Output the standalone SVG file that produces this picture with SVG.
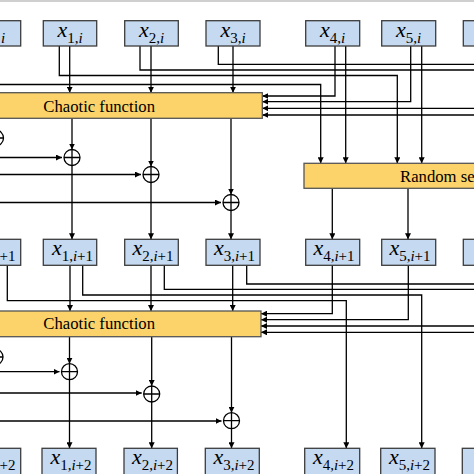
<svg xmlns="http://www.w3.org/2000/svg" width="474" height="474" viewBox="0 0 474 474">
<defs>
<marker id="ah" viewBox="0 0 10 10" refX="10" refY="5" markerWidth="6" markerHeight="6" markerUnits="userSpaceOnUse" orient="auto">
<path d="M0,0 L10,5 L0,10 z" fill="#000"/>
</marker>
<style>
.box{fill:#C5D9F1;stroke:#3c3c3c;stroke-width:1.3}
.bar{fill:#FCD36A;stroke:#555;stroke-width:1.3}
.ln{fill:none;stroke:#000;stroke-width:1.3}
.ar{fill:none;stroke:#000;stroke-width:1.3;marker-end:url(#ah)}
.xor{fill:#fff;stroke:#000;stroke-width:1.3}
.lbl{font-size:22px;fill:#000}
.sub{font-size:15px}
.it{font-style:italic}
.bt{font-size:16.7px;fill:#000}
</style>
</defs>
<rect x="0" y="0" width="474" height="2" fill="#cfcfcf"/>

<g id="connectors">
<path class="ar" d="M0 84.5 H320.7 V163.3"/>
<path class="ar" d="M59.3 46 V75.5 H397.3 V163.3"/>
<path class="ar" d="M69.7 46 V92.7"/>
<path class="ln" d="M140 46 V70 H474"/>
<path class="ar" d="M151 46 V92.7"/>
<path class="ln" d="M218.3 46 V64.3 H474"/>
<path class="ar" d="M233 46 V92.7"/>
<path class="ar" d="M335 46 V96 H262.3"/>
<path class="ar" d="M345.7 46 V163.3"/>
<path class="ar" d="M410.7 46 V101.7 H262.3"/>
<path class="ar" d="M421.7 46 V163.3"/>
<path class="ar" d="M474 108.3 H262.3"/>
<path class="ar" d="M474 115 H262.3"/>
<path class="ar" d="M72 118.3 V149.5"/>
<path class="ar" d="M72 165.5 V239.3"/>
<path class="ar" d="M151 118.3 V166.5"/>
<path class="ar" d="M151 182.5 V239.3"/>
<path class="ar" d="M231 118.3 V194.5"/>
<path class="ar" d="M231 210.5 V239.3"/>
<path class="ar" d="M0 157.5 H62"/>
<path class="ar" d="M0 174.5 H141"/>
<path class="ar" d="M0 202.5 H221"/>
<path class="ar" d="M332.3 188.3 V239.3"/>
<path class="ar" d="M408 188.3 V239.3"/>
<path class="ar" d="M7.3 265.3 V300.7 H346.3 V448.3"/>
<path class="ar" d="M70 265.3 V311"/>
<path class="ar" d="M82.7 265.3 V295 H421.7 V448.3"/>
<path class="ar" d="M151 265.3 V311"/>
<path class="ln" d="M164.3 265.3 V289.3 H474"/>
<path class="ar" d="M232.7 265.3 V311"/>
<path class="ln" d="M246.7 265.3 V284 H474"/>
<path class="ar" d="M332.3 265.3 V313.7 H261"/>
<path class="ar" d="M408.3 265.3 V319.7 H261"/>
<path class="ar" d="M474 326 H261"/>
<path class="ar" d="M474 332.3 H261"/>
<path class="ar" d="M69.5 336.7 V363.7"/>
<path class="ar" d="M69.5 379.7 V448.3"/>
<path class="ar" d="M151.7 336.7 V386"/>
<path class="ar" d="M151.7 402 V448.3"/>
<path class="ar" d="M231.5 336.7 V412.7"/>
<path class="ar" d="M231.5 428.7 V448.3"/>
<path class="ar" d="M0 371.7 H59.5"/>
<path class="ar" d="M0 393 H141.7"/>
<path class="ar" d="M0 421 H221.5"/>
</g>

<g id="xor-ops">
<g id="xor0a"><circle class="xor" cx="-4.5" cy="138" r="8"/><path class="ln" d="M-12.5 138 H3.5 M-4.5 130 V146"/></g>
<g id="xor1a"><circle class="xor" cx="72" cy="157.5" r="8"/><path class="ln" d="M64 157.5 H80 M72 149.5 V165.5"/></g>
<g id="xor2a"><circle class="xor" cx="151" cy="174.5" r="8"/><path class="ln" d="M143 174.5 H159 M151 166.5 V182.5"/></g>
<g id="xor3a"><circle class="xor" cx="231" cy="202.5" r="8"/><path class="ln" d="M223 202.5 H239 M231 194.5 V210.5"/></g>
<g id="xor0b"><circle class="xor" cx="-5" cy="357" r="8"/><path class="ln" d="M-13 357 H3 M-5 349 V365"/></g>
<g id="xor1b"><circle class="xor" cx="69.5" cy="371.7" r="8"/><path class="ln" d="M61.5 371.7 H77.5 M69.5 363.7 V379.7"/></g>
<g id="xor2b"><circle class="xor" cx="151.7" cy="394" r="8"/><path class="ln" d="M143.7 394 H159.7 M151.7 386 V402"/></g>
<g id="xor3b"><circle class="xor" cx="231.5" cy="420.7" r="8"/><path class="ln" d="M223.5 420.7 H239.5 M231.5 412.7 V428.7"/></g>
</g>

<g font-family="'Liberation Serif', 'DejaVu Serif', serif">
<g id="chaotic1"><rect class="bar" x="-10" y="92.7" width="272.3" height="25.6"/><text class="bt" x="43.3" y="111.6">Chaotic function</text></g>
<g id="chaotic2"><rect class="bar" x="-10" y="311" width="271" height="25.7"/><text class="bt" x="43.3" y="329">Chaotic function</text></g>
<g id="random"><rect class="bar" x="304" y="163.3" width="180" height="25"/><text class="bt" x="400" y="182.3">Random se</text></g>

<g id="x0i"><rect class="box" x="-33.3" y="20.7" width="54" height="25.3"/><text class="lbl" x="1" y="43"><tspan class="sub it">i</tspan></text></g>
<g id="x1i"><rect class="box" x="43.3" y="20.7" width="53.4" height="25.3"/><text class="lbl" x="70" y="37" text-anchor="middle"><tspan class="it">x</tspan><tspan class="sub" dy="6">1,<tspan class="it">i</tspan></tspan></text></g>
<g id="x2i"><rect class="box" x="124.7" y="20.7" width="53.6" height="25.3"/><text class="lbl" x="151.5" y="37" text-anchor="middle"><tspan class="it">x</tspan><tspan class="sub" dy="6">2,<tspan class="it">i</tspan></tspan></text></g>
<g id="x3i"><rect class="box" x="206" y="20.7" width="54" height="25.3"/><text class="lbl" x="233" y="37" text-anchor="middle"><tspan class="it">x</tspan><tspan class="sub" dy="6">3,<tspan class="it">i</tspan></tspan></text></g>
<g id="x4i"><rect class="box" x="305.7" y="20.7" width="54" height="25.3"/><text class="lbl" x="332.7" y="37" text-anchor="middle"><tspan class="it">x</tspan><tspan class="sub" dy="6">4,<tspan class="it">i</tspan></tspan></text></g>
<g id="x5i"><rect class="box" x="381.7" y="20.7" width="54" height="25.3"/><text class="lbl" x="408.7" y="37" text-anchor="middle"><tspan class="it">x</tspan><tspan class="sub" dy="6">5,<tspan class="it">i</tspan></tspan></text></g>
<g id="x6i"><rect class="box" x="463.3" y="20.7" width="54" height="25.3"/></g>

<g id="x0i1"><rect class="box" x="-33.3" y="239.3" width="54" height="26"/><text class="lbl" x="-0.5" y="261"><tspan class="sub">+1</tspan></text></g>
<g id="x1i1"><rect class="box" x="43.3" y="239.3" width="53.4" height="26"/><text class="lbl" x="72.5" y="255" text-anchor="middle"><tspan class="it">x</tspan><tspan class="sub" dy="6">1,<tspan class="it">i</tspan>+1</tspan></text></g>
<g id="x2i1"><rect class="box" x="124.7" y="239.3" width="53.6" height="26"/><text class="lbl" x="153" y="255" text-anchor="middle"><tspan class="it">x</tspan><tspan class="sub" dy="6">2,<tspan class="it">i</tspan>+1</tspan></text></g>
<g id="x3i1"><rect class="box" x="206" y="239.3" width="54" height="26"/><text class="lbl" x="234.5" y="255" text-anchor="middle"><tspan class="it">x</tspan><tspan class="sub" dy="6">3,<tspan class="it">i</tspan>+1</tspan></text></g>
<g id="x4i1"><rect class="box" x="305.7" y="239.3" width="54" height="26"/><text class="lbl" x="334" y="255" text-anchor="middle"><tspan class="it">x</tspan><tspan class="sub" dy="6">4,<tspan class="it">i</tspan>+1</tspan></text></g>
<g id="x5i1"><rect class="box" x="381.7" y="239.3" width="54" height="26"/><text class="lbl" x="410" y="255" text-anchor="middle"><tspan class="it">x</tspan><tspan class="sub" dy="6">5,<tspan class="it">i</tspan>+1</tspan></text></g>
<g id="x6i1"><rect class="box" x="463.3" y="239.3" width="54" height="26"/></g>

<g id="x0i2"><rect class="box" x="-33.3" y="448.3" width="54" height="40"/><text class="lbl" x="-0.5" y="470"><tspan class="sub">+2</tspan></text></g>
<g id="x1i2"><rect class="box" x="42" y="448.3" width="54" height="40"/><text class="lbl" x="71" y="464" text-anchor="middle"><tspan class="it">x</tspan><tspan class="sub" dy="6">1,<tspan class="it">i</tspan>+2</tspan></text></g>
<g id="x2i2"><rect class="box" x="124" y="448.3" width="53.4" height="40"/><text class="lbl" x="152.5" y="464" text-anchor="middle"><tspan class="it">x</tspan><tspan class="sub" dy="6">2,<tspan class="it">i</tspan>+2</tspan></text></g>
<g id="x3i2"><rect class="box" x="205.3" y="448.3" width="54" height="40"/><text class="lbl" x="234" y="464" text-anchor="middle"><tspan class="it">x</tspan><tspan class="sub" dy="6">3,<tspan class="it">i</tspan>+2</tspan></text></g>
<g id="x4i2"><rect class="box" x="304.7" y="448.3" width="55" height="40"/><text class="lbl" x="333.5" y="464" text-anchor="middle"><tspan class="it">x</tspan><tspan class="sub" dy="6">4,<tspan class="it">i</tspan>+2</tspan></text></g>
<g id="x5i2"><rect class="box" x="380.7" y="448.3" width="54.3" height="40"/><text class="lbl" x="409.5" y="464" text-anchor="middle"><tspan class="it">x</tspan><tspan class="sub" dy="6">5,<tspan class="it">i</tspan>+2</tspan></text></g>
<g id="x6i2"><rect class="box" x="462.3" y="448.3" width="54" height="40"/></g>
</g>
</svg>
